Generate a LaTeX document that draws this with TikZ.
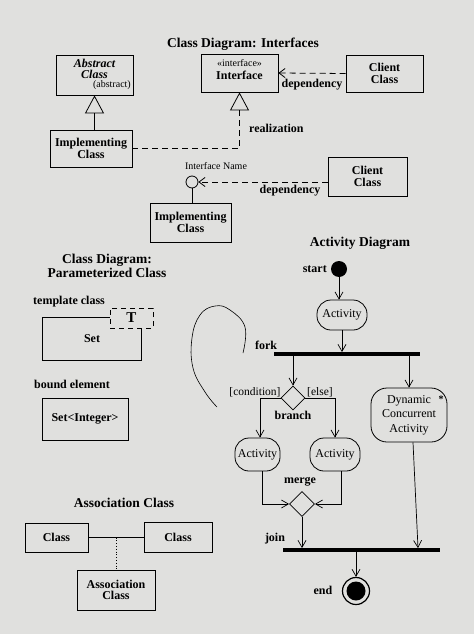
\documentclass[tikz,border=0pt]{standalone}
\usepackage{fontspec}
\setmainfont{Liberation Serif}
\usetikzlibrary{arrows.meta,shapes.geometric,calc}
\definecolor{paper}{RGB}{224,224,222}
\newcommand\myboxfont{\fontsize{12}{11.5}\selectfont\bfseries}
\newcommand\mylblfont{\fontsize{12}{13}\selectfont\bfseries}
\newcommand\mytitlefont{\fontsize{13.5}{14.5}\selectfont\bfseries}
\newcommand\myactfont{\fontsize{12}{14.5}\selectfont}
\newcommand\mysmallfont{\fontsize{10}{11}\selectfont}
\tikzset{
  box/.style={draw, line width=0.8pt, inner sep=0pt, align=center, font=\myboxfont},
  lbl/.style={font=\mylblfont, inner sep=0pt},
  ttl/.style={font=\mytitlefont, inner sep=0pt, align=center},
  small/.style={font=\mysmallfont, inner sep=0pt},
  act/.style={draw, line width=0.8pt, rounded corners=14pt, align=center, inner sep=0pt, font=\myactfont},
  flow/.style={-{Straight Barb[length=7pt,width=8pt]}, line width=0.7pt},
  bar/.style={fill=black, inner sep=0pt, minimum height=3.5pt},
  dec/.style={diamond, aspect=1, draw, line width=0.8pt, inner sep=0pt, minimum width=24pt, minimum height=24pt},
  dep/.style={dashed, dash pattern=on 6pt off 4pt, line width=0.8pt, -{Straight Barb[length=6pt,width=9pt]}},
  gen/.style={line width=0.8pt, -{Triangle[open,length=18pt,width=19pt,line width=0.8pt]}},
}
\begin{document}
\begin{tikzpicture}[x=1pt,y=-1pt]
\useasboundingbox (0,0) rectangle (474,634);
\fill[paper] (0,0) rectangle (474,634);

% ---------- Class Diagram: Interfaces ----------
\node[ttl] (t1) at (243,44) {Class Diagram: Interfaces};

\node[box, minimum width=77pt, minimum height=40pt] (abs) at (94.5,75) {};
\node[font=\myboxfont\itshape, align=center, inner sep=0pt] (abstxt) at (94.5,69) {Abstract\\Class};
\node[small, anchor=east] (absnote) at (131,85) {(abstract)};

\node[box, minimum width=82pt, minimum height=37pt] (impl1) at (91,148.5) {Implementing\\Class};
\draw[gen] (impl1.north -| abs.south) -- (abs.south);

\node[box, minimum width=77pt, minimum height=38pt] (iface) at (239.5,73) {};
\node[small, align=center] (stereo) at (239.5,63) {«interface»};
\node[font=\myboxfont, inner sep=0pt] (ifacetxt) at (239.5,75) {Interface};

\node[box, minimum width=77pt, minimum height=37pt] (client1) at (384.5,73.5) {Client\\Class};
\draw[dep] (client1.west) -- (iface.east);
\node[lbl] (dep1) at (312,85) {dependency};

\draw[line width=0.8pt, dashed, dash pattern=on 6pt off 4pt] (impl1.east) -| ($(iface.south)+(0,19)$);
\draw[gen] ($(iface.south)+(0,19)$) -- (iface.south);
\node[lbl, anchor=west] (real) at (249,128) {realization};

\node[circle, draw, line width=0.8pt, minimum size=12pt, inner sep=0pt] (ifc) at (192,182) {};
\node[small] (ifname) at (216,166) {Interface Name};
\node[box, minimum width=81pt, minimum height=39pt] (impl2) at (190.5,222.5) {Implementing\\Class};
\draw[line width=0.8pt] (ifc.south) -- (ifc.south |- impl2.north);
\node[box, minimum width=79pt, minimum height=39pt] (client2) at (367.5,176.5) {Client\\Class};
\draw[dep] (client2.west |- ifc.east) -- (ifc.east);
\node[lbl] (dep2) at (290,191) {dependency};

% ---------- Parameterized class ----------
\node[ttl] (t2) at (107,266) {Class Diagram:\\Parameterized Class};
\node[lbl, anchor=west] (tmpl) at (33,302) {template class};
\node[font=\myboxfont, minimum width=98pt, minimum height=42pt, inner sep=0pt] (set) at (92,339) {Set};
\node[draw, dashed, dash pattern=on 5pt off 4pt, line width=0.8pt, minimum width=43pt, minimum height=20pt, inner sep=0pt, font=\fontsize{15}{15}\selectfont\bfseries] (tbox) at (131.5,318) {T};
\draw[line width=0.8pt] (tbox.west |- set.north) -- (set.north west) -- (set.south west) -- (set.south east) -- (set.east |- tbox.south);

\node[lbl, anchor=west] (bound) at (34,384) {bound element};
\node[box, minimum width=86pt, minimum height=42pt] (setint) at (85,419) {Set<Integer>};

% ---------- Association class ----------
\node[ttl] (t3) at (124,503) {Association Class};
\node[box, minimum width=63pt, minimum height=29pt] (c1) at (56.5,537.5) {Class};
\node[box, minimum width=68pt, minimum height=30pt] (c2) at (178,537) {Class};
\draw[line width=0.8pt] (c1.east) -- (c1.east -| c2.west);
\coordinate (am) at ($(c1.east)!0.5!(c1.east -| c2.west)$);
\node[box, minimum width=78pt, minimum height=40pt] (assoc) at (116,590) {Association\\Class};
\draw[line width=0.8pt, dotted] (am) -- (am |- assoc.north);

% ---------- Activity diagram ----------
\node[ttl] (t4) at (360,243) {Activity Diagram};
\node[circle, fill=black, minimum size=16pt, inner sep=0pt] (start) at (339,269) {};
\node[lbl, anchor=east] (startl) at (327,269) {start};
\node[act, minimum width=50pt, minimum height=30pt] (a1) at (342,315) {Activity};
\draw[flow] (start.south) -- (start.south |- a1.north);

\node[bar, minimum width=146pt] (fork) at (347,354) {};
\node[lbl] (forkl) at (266,345) {fork};
\draw[flow] (a1.south) -- (a1.south |- fork.north);

\node[dec] (br) at (293,398) {};
\draw[flow] (br.north |- fork.south) -- (br.north);
\node[small, font=\fontsize{11.5}{12}\selectfont] (cond) at (255,392) {[condition]};
\node[small, font=\fontsize{11.5}{12}\selectfont] (els) at (320,392) {[else]};
\node[lbl] (brl) at (293,415) {branch};

\node[act, minimum width=76pt, minimum height=54pt, rounded corners=16pt] (dca) at (409,415) {Dynamic\\Concurrent\\Activity};
\node[font=\fontsize{10}{10}\selectfont\bfseries, inner sep=0pt] (star) at (441,399) {*};
\draw[flow] (dca.north |- fork.south) -- (dca.north);

\node[act, minimum width=45pt, minimum height=33pt] (a2) at (257.5,454.5) {Activity};
\node[act, minimum width=50pt, minimum height=33pt] (a3) at (335,454.5) {Activity};
\draw[flow] (br.west) -| ([xshift=2.5pt]a2.north);
\draw[flow] (br.east) -| (a3.north);

\node[dec, minimum width=25pt, minimum height=25pt] (mg) at (302,504) {};
\node[lbl] (mgl) at (300,482) {merge};
\draw[flow] ([xshift=4.5pt]a2.south) |- (mg.west);
\draw[flow] ([xshift=6pt]a3.south) |- (mg.east);

\node[bar, minimum width=157pt] (join) at (361.5,550) {};
\node[lbl] (joinl) at (275,539) {join};
\draw[flow] (mg.south) -- (mg.south |- join.north);
\draw[flow] ([xshift=4pt]dca.south) -- ([xshift=56.5pt]join.north);

\node[circle, draw, line width=1.2pt, minimum size=27pt, inner sep=0pt] (endc) at (356,591) {};
\fill (endc.center) circle (9.5pt);
\draw[flow] (endc.north |- join.south) -- (endc.north);
\node[lbl] (endl) at (323,590) {end};

% ---------- stray pen stroke ----------
\draw[line width=0.6pt] plot[smooth, tension=0.7] coordinates {(243,353) (245,327) (230,310) (215,306) (200,315) (192,338) (193,368) (205,392) (217,407)};
\end{tikzpicture}
\end{document}
